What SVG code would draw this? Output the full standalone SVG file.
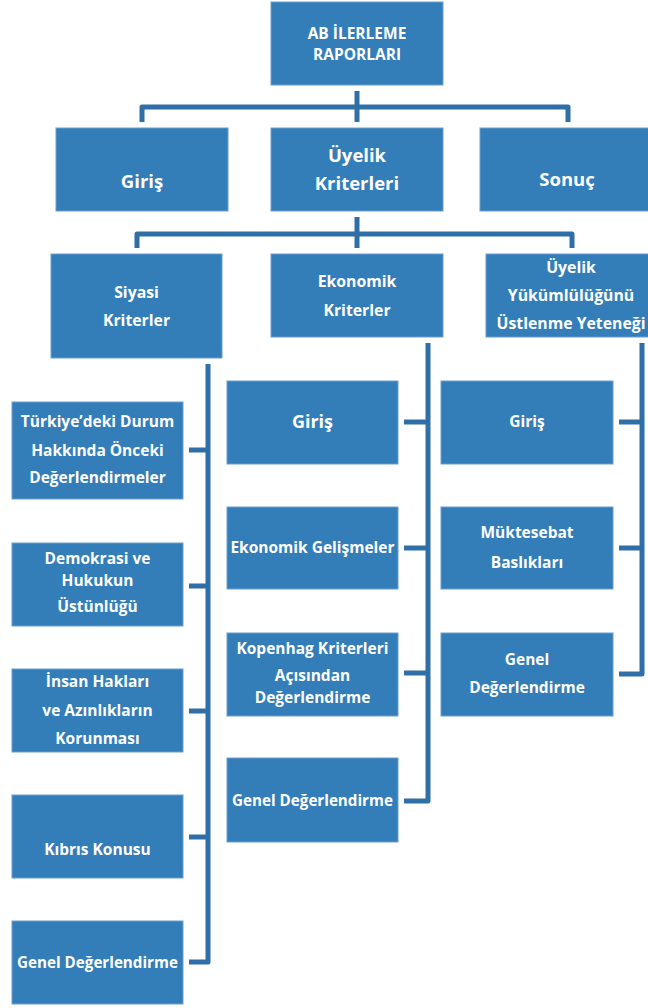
<svg xmlns="http://www.w3.org/2000/svg" width="648" height="1008" viewBox="0 0 648 1008">
<style>
.box{fill:#337db8;stroke:#6a9fd0;stroke-width:1}
.t{font-family:"Open Sans","Liberation Sans",sans-serif;font-weight:bold;fill:#ffffff;text-anchor:middle}
.s1{font-size:15.5px}
.s2{font-size:18.5px}
.s3{font-size:15.8px}
.s4{font-size:15.5px}
.s5{font-size:15.2px}
.c{fill:none;stroke:#2e6fa7;stroke-width:5;stroke-linejoin:round}
</style>
<rect width="648" height="1008" fill="#ffffff"/>
<g id="connectors">
<path class="c" d="M357,91 V122"/>
<path class="c" d="M142,122 V107 H568 V122"/>
<path class="c" d="M357,217 V248"/>
<path class="c" d="M137,248 V234 H572 V248"/>
<path class="c" d="M208,364 V962 H189"/>
<path class="c" d="M189,450 H208 M189,586 H208 M189,711 H208 M189,837 H208"/>
<path class="c" d="M428,343 V801 H404"/>
<path class="c" d="M404,422 H428 M404,548 H428 M404,673 H428"/>
<path class="c" d="M642,343 V674 H619"/>
<path class="c" d="M619,422 H642 M619,548 H642"/>
</g>
<g id="n-root"><rect class="box" x="271" y="2" width="172" height="83"/><text class="t s1" x="357" y="39">AB İLERLEME</text><text class="t s1" x="357" y="60">RAPORLARI</text></g>
<g id="n-giris"><rect class="box" x="56" y="128" width="172" height="83"/><text class="t s2" x="142" y="188">Giriş</text></g>
<g id="n-uyelik"><rect class="box" x="271" y="128" width="172" height="83"/><text class="t s2" x="357" y="162">Üyelik</text><text class="t s2" x="357" y="190">Kriterleri</text></g>
<g id="n-sonuc"><rect class="box" x="480" y="128" width="175" height="83"/><text class="t s2" x="567" y="186">Sonuç</text></g>
<g id="n-siyasi"><rect class="box" x="51" y="254" width="171" height="104"/><text class="t s3" x="136.5" y="298">Siyasi</text><text class="t s3" x="136.5" y="326">Kriterler</text></g>
<g id="n-ekonomik"><rect class="box" x="271" y="254" width="172" height="83"/><text class="t s3" x="357" y="287">Ekonomik</text><text class="t s3" x="357" y="316">Kriterler</text></g>
<g id="n-yukum"><rect class="box" x="486" y="254" width="171" height="83"/><text class="t s3" x="571" y="273">Üyelik</text><text class="t s3" x="571" y="301">Yükümlülüğünü</text><text class="t s3" x="571" y="329">Üstlenme Yeteneği</text></g>
<g id="n-turkiye"><rect class="box" x="12" y="402" width="171" height="97"/><text class="t s4" x="97.5" y="427">Türkiye’deki Durum</text><text class="t s4" x="97.5" y="456">Hakkında Önceki</text><text class="t s4" x="97.5" y="483">Değerlendirmeler</text></g>
<g id="n-demokrasi"><rect class="box" x="12" y="543" width="171" height="83"/><text class="t s4" x="97.5" y="564">Demokrasi ve</text><text class="t s4" x="97.5" y="586">Hukukun</text><text class="t s4" x="97.5" y="612">Üstünlüğü</text></g>
<g id="n-insan"><rect class="box" x="12" y="669" width="171" height="83"/><text class="t s4" x="97.5" y="687">İnsan Hakları</text><text class="t s4" x="97.5" y="716">ve Azınlıkların</text><text class="t s4" x="97.5" y="744">Korunması</text></g>
<g id="n-kibris"><rect class="box" x="12" y="795" width="171" height="83"/><text class="t s4" x="97.5" y="855">Kıbrıs Konusu</text></g>
<g id="n-genel1"><rect class="box" x="12" y="921" width="171" height="83"/><text class="t s5" x="97.5" y="968">Genel Değerlendirme</text></g>
<g id="n-egiris"><rect class="box" x="227" y="381" width="171" height="83"/><text class="t" style="font-size:18px" x="312.5" y="428">Giriş</text></g>
<g id="n-egelisme"><rect class="box" x="227" y="507" width="171" height="82"/><text class="t s4" x="312.5" y="553">Ekonomik Gelişmeler</text></g>
<g id="n-kopenhag"><rect class="box" x="227" y="633" width="171" height="83"/><text class="t s4" x="312.5" y="654">Kopenhag Kriterleri</text><text class="t s4" x="312.5" y="681">Açısından</text><text class="t s4" x="312.5" y="703">Değerlendirme</text></g>
<g id="n-genel2"><rect class="box" x="227" y="758" width="171" height="84"/><text class="t s5" x="312.5" y="806">Genel Değerlendirme</text></g>
<g id="n-ygiris"><rect class="box" x="441" y="381" width="172" height="83"/><text class="t s4" x="527" y="427">Giriş</text></g>
<g id="n-muktesebat"><rect class="box" x="441" y="507" width="172" height="82"/><text class="t s4" x="527" y="538">Müktesebat</text><text class="t s4" x="527" y="568">Baslıkları</text></g>
<g id="n-genel3"><rect class="box" x="441" y="633" width="172" height="83"/><text class="t s4" x="527" y="665">Genel</text><text class="t s4" x="527" y="693">Değerlendirme</text></g>
</svg>
